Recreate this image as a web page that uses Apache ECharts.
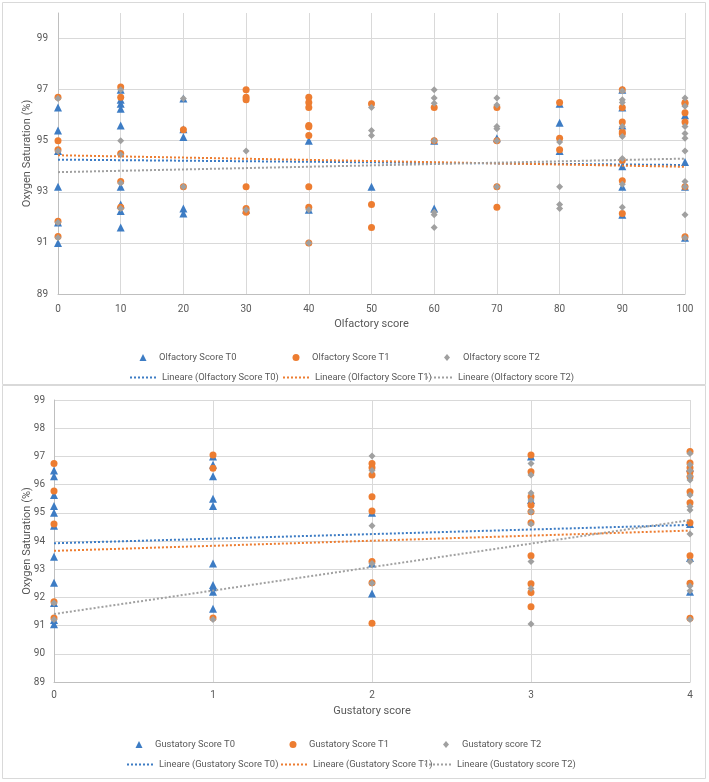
<!DOCTYPE html>
<html>
<head>
<meta charset="utf-8">
<script src="https://cdn.jsdelivr.net/npm/echarts@6/dist/echarts.min.js"></script>
<style>
  html, body { margin: 0; padding: 0; background: #fff; }
  #chart { width: 709px; height: 782px; }
</style>
</head>
<body>
<div id="chart"></div>
<script>
// Olfactory panel: [score, oxygen saturation]
const olfactoryT0 = [
  [0, 96.3], [0, 95.4], [0, 94.6], [0, 93.2], [0, 91.8], [0, 91.0],
  [10, 97.0], [10, 96.6], [10, 96.45], [10, 96.25], [10, 95.6], [10, 93.2], [10, 92.5], [10, 92.25], [10, 91.6],
  [20, 96.65], [20, 95.45], [20, 95.15], [20, 92.35], [20, 92.15],
  [30, 92.3],
  [40, 95.0], [40, 92.3],
  [50, 93.2],
  [60, 95.0], [60, 92.35],
  [70, 95.1],
  [80, 96.45], [80, 95.7], [80, 94.6],
  [90, 97.0], [90, 96.3], [90, 95.6], [90, 94.0], [90, 93.2], [90, 92.1],
  [100, 96.0], [100, 94.17], [100, 93.2], [100, 91.2]
]
const olfactoryT1 = [
  [0, 96.7], [0, 95.0], [0, 94.65], [0, 91.85], [0, 91.25],
  [10, 97.1], [10, 96.7], [10, 94.5], [10, 93.4], [10, 92.4],
  [20, 95.43], [20, 93.2],
  [30, 97.0], [30, 96.7], [30, 96.6], [30, 93.2], [30, 92.35], [30, 92.2],
  [40, 96.7], [40, 96.5], [40, 96.3], [40, 95.6], [40, 95.55], [40, 95.2], [40, 93.2], [40, 92.4], [40, 91.0],
  [50, 96.45], [50, 92.5], [50, 91.6],
  [60, 96.3], [60, 95.0],
  [70, 96.3], [70, 95.0], [70, 93.2], [70, 92.4],
  [80, 96.5], [80, 95.1], [80, 94.65],
  [90, 97.0], [90, 96.3], [90, 95.73], [90, 95.34], [90, 95.27], [90, 94.23], [90, 93.43], [90, 92.15],
  [100, 96.5], [100, 96.45], [100, 96.1], [100, 95.73], [100, 93.2], [100, 91.24]
]
const olfactoryT2 = [
  [0, 96.65], [0, 94.6], [0, 91.8], [0, 91.2],
  [10, 97.0], [10, 95.0], [10, 94.45], [10, 93.35], [10, 92.35],
  [20, 96.65], [20, 93.2],
  [30, 94.6], [30, 92.3],
  [40, 92.3], [40, 91.0],
  [50, 96.3], [50, 95.4], [50, 95.2],
  [60, 97.0], [60, 96.67], [60, 96.47], [60, 95.0], [60, 92.2], [60, 92.1], [60, 91.6],
  [70, 96.67], [70, 96.4], [70, 95.56], [70, 95.47], [70, 95.0], [70, 93.2],
  [80, 94.95], [80, 93.2], [80, 92.5], [80, 92.35],
  [90, 96.95], [90, 96.6], [90, 96.5], [90, 95.56], [90, 95.17], [90, 94.3], [90, 93.3], [90, 92.4],
  [100, 96.67], [100, 96.35], [100, 95.56], [100, 95.28], [100, 95.1], [100, 94.6], [100, 93.4], [100, 93.2], [100, 92.1], [100, 91.2]
]
// trend lines (start and end)
const olfactoryTrendT0 = [[0, 94.26], [100, 94.05]]
const olfactoryTrendT1 = [[0, 94.43], [100, 93.98]]
const olfactoryTrendT2 = [[0, 93.77], [100, 94.3]]

// Gustatory panel
const gustatoryT0 = [
  [0, 96.5], [0, 96.3], [0, 95.63], [0, 95.24], [0, 95.0], [0, 94.54], [0, 93.44], [0, 92.52], [0, 91.8], [0, 91.2], [0, 91.05],
  [1, 97.0], [1, 96.7], [1, 96.3], [1, 95.5], [1, 95.24], [1, 93.2], [1, 92.44], [1, 92.36], [1, 92.2], [1, 91.6],
  [2, 95.0], [2, 93.2], [2, 92.14],
  [3, 97.0], [3, 95.45],
  [4, 96.6], [4, 94.6], [4, 93.4], [4, 92.2]
]
const gustatoryT1 = [
  [0, 96.75], [0, 95.77], [0, 94.6], [0, 91.85], [0, 91.27],
  [1, 97.05], [1, 96.58], [1, 91.27],
  [2, 96.75], [2, 96.6], [2, 96.34], [2, 95.57], [2, 95.06], [2, 93.27], [2, 92.52], [2, 91.08],
  [3, 97.05], [3, 96.46], [3, 95.57], [3, 95.28], [3, 95.04], [3, 94.65], [3, 93.48], [3, 92.48], [3, 92.17], [3, 91.67],
  [4, 97.17], [4, 96.77], [4, 96.6], [4, 96.46], [4, 96.28], [4, 95.75], [4, 95.36], [4, 94.65], [4, 93.48], [4, 92.5], [4, 91.26]
]
const gustatoryT2 = [
  [0, 91.8], [0, 91.22],
  [1, 91.22],
  [2, 97.01], [2, 96.5], [2, 94.54], [2, 93.2], [2, 92.5],
  [3, 96.75], [3, 96.34], [3, 95.7], [3, 95.45], [3, 95.04], [3, 94.6], [3, 93.27], [3, 92.32], [3, 91.06],
  [4, 97.1], [4, 96.7], [4, 96.5], [4, 96.3], [4, 96.16], [4, 95.63], [4, 95.22], [4, 95.1], [4, 94.25], [4, 93.27], [4, 92.4], [4, 92.24], [4, 91.22]
]
const gustatoryTrendT0 = [[0, 93.92], [4, 94.57]]
const gustatoryTrendT1 = [[0, 93.65], [4, 94.37]]
const gustatoryTrendT2 = [[0, 91.41], [4, 94.74]]

const BLUE = '#3d7cc4'
const ORANGE = '#ed7d31'
const GREY = '#a0a0a0'
const FONT = 'Roboto, sans-serif'
const TEXT = '#595959'

// legend markers: the two leading moves widen the box so the mark sits centred, unstretched
const ICON_TRIANGLE = 'path://M0,0M22,7M11,0L14.5,7L7.5,7Z'
const ICON_CIRCLE = 'path://M0,0M22,7M11,0A3.5,3.5,0,1,1,11,7A3.5,3.5,0,1,1,11,0Z'
const ICON_DIAMOND = 'path://M0,0M22,7M11,0L14,3.5L11,7L8,3.5Z'

function scatter(name, data, axis, symbol, size, color) {
  return {
    name, type: 'scatter', data, symbol, symbolSize: size,
    xAxisIndex: axis, yAxisIndex: axis,
    itemStyle: { color, opacity: 1 },
    emphasis: { disabled: true }
  }
}

function trend(name, data, axis, color) {
  return {
    name, type: 'line', data, symbol: 'none',
    xAxisIndex: axis, yAxisIndex: axis,
    lineStyle: { color, width: 2, type: 'dotted' },
    itemStyle: { color },
    emphasis: { disabled: true }
  }
}

function legendItem(name, left, top, icon) {
  const item = {
    data: [icon ? { name, icon } : name],
    left, top, padding: 0,
    itemWidth: icon ? 22 : 27,
    itemHeight: icon ? 7 : 8,
    selectedMode: false,
    textStyle: { fontFamily: FONT, fontSize: 9.4, color: TEXT }
  }
  // line items: hide the marker drawn in the middle of the line
  if (!icon) item.itemStyle = { opacity: 0 }
  return item
}

function xAxis(grid, max, interval, name, gap, margin) {
  return {
    type: 'value', gridIndex: grid, min: 0, max, interval,
    name, nameLocation: 'middle', nameGap: gap,
    nameTextStyle: { fontFamily: FONT, fontSize: 11, color: TEXT },
    axisLine: { lineStyle: { color: '#bfbfbf' } },
    axisTick: { show: false },
    axisLabel: { fontFamily: FONT, fontSize: 10, color: TEXT, margin },
    splitLine: { lineStyle: { color: '#d9d9d9' } }
  }
}

function yAxis(grid, max, formatter, lineColors, gap, margin) {
  return {
    type: 'value', gridIndex: grid, min: 89, max, interval: 1,
    name: 'Oxygen Saturation (%)', nameLocation: 'middle', nameGap: gap,
    nameMoveOverlap: false,
    nameTextStyle: { fontFamily: FONT, fontSize: 11, color: TEXT },
    axisLine: { show: true, lineStyle: { color: '#bfbfbf' } },
    axisTick: { show: false },
    axisLabel: { fontFamily: FONT, fontSize: 10, color: TEXT, margin, formatter },
    splitLine: { lineStyle: { color: lineColors } }
  }
}

const chart = echarts.init(document.getElementById('chart'))

chart.setOption({
  animation: false,
  graphic: [
    { type: 'rect', shape: { x: 2.5, y: 2.5, width: 703, height: 382 }, style: { fill: 'none', stroke: '#d9d9d9' }, silent: true },
    { type: 'rect', shape: { x: 2.5, y: 385.5, width: 703, height: 393 }, style: { fill: 'none', stroke: '#d9d9d9' }, silent: true }
  ],
  grid: [
    { left: 58, top: 13, width: 627, height: 281 },
    { left: 54, top: 400, width: 636, height: 282 }
  ],
  xAxis: [
    xAxis(0, 100, 10, 'Olfactory score', 25, 10),
    xAxis(1, 4, 1, 'Gustatory score', 24, 8)
  ],
  yAxis: [
    // only odd values carry a label and a grid line in the upper panel
    yAxis(0, 100, v => (v % 2 === 1 ? String(v) : ''), ['#d9d9d9', 'transparent'], 25, 10),
    yAxis(1, 99, v => String(v), ['#d9d9d9'], 21, 9)
  ],
  legend: [
    legendItem('Olfactory Score T0', 132, 353, ICON_TRIANGLE),
    legendItem('Olfactory Score T1', 285, 353, ICON_CIRCLE),
    legendItem('Olfactory score T2', 436, 353, ICON_DIAMOND),
    legendItem('Lineare (Olfactory Score T0)', 129, 373),
    legendItem('Lineare (Olfactory Score T1)', 282, 373),
    legendItem('Lineare (Olfactory score T2)', 425, 373),
    legendItem('Gustatory Score T0', 128, 740, ICON_TRIANGLE),
    legendItem('Gustatory Score T1', 282, 740, ICON_CIRCLE),
    legendItem('Gustatory score T2', 435, 740, ICON_DIAMOND),
    legendItem('Lineare (Gustatory Score T0)', 126, 760),
    legendItem('Lineare (Gustatory Score T1)', 280, 760),
    legendItem('Lineare (Gustatory score T2)', 424, 760)
  ],
  series: [
    scatter('Olfactory Score T0', olfactoryT0, 0, 'triangle', 8, BLUE),
    scatter('Olfactory Score T1', olfactoryT1, 0, 'circle', 7, ORANGE),
    scatter('Olfactory score T2', olfactoryT2, 0, 'diamond', 7, GREY),
    trend('Lineare (Olfactory Score T0)', olfactoryTrendT0, 0, BLUE),
    trend('Lineare (Olfactory Score T1)', olfactoryTrendT1, 0, ORANGE),
    trend('Lineare (Olfactory score T2)', olfactoryTrendT2, 0, GREY),
    scatter('Gustatory Score T0', gustatoryT0, 1, 'triangle', 8, BLUE),
    scatter('Gustatory Score T1', gustatoryT1, 1, 'circle', 7, ORANGE),
    scatter('Gustatory score T2', gustatoryT2, 1, 'diamond', 7, GREY),
    trend('Lineare (Gustatory Score T0)', gustatoryTrendT0, 1, BLUE),
    trend('Lineare (Gustatory Score T1)', gustatoryTrendT1, 1, ORANGE),
    trend('Lineare (Gustatory score T2)', gustatoryTrendT2, 1, GREY)
  ]
})

window.addEventListener('resize', () => chart.resize())
</script>
</body>
</html>
